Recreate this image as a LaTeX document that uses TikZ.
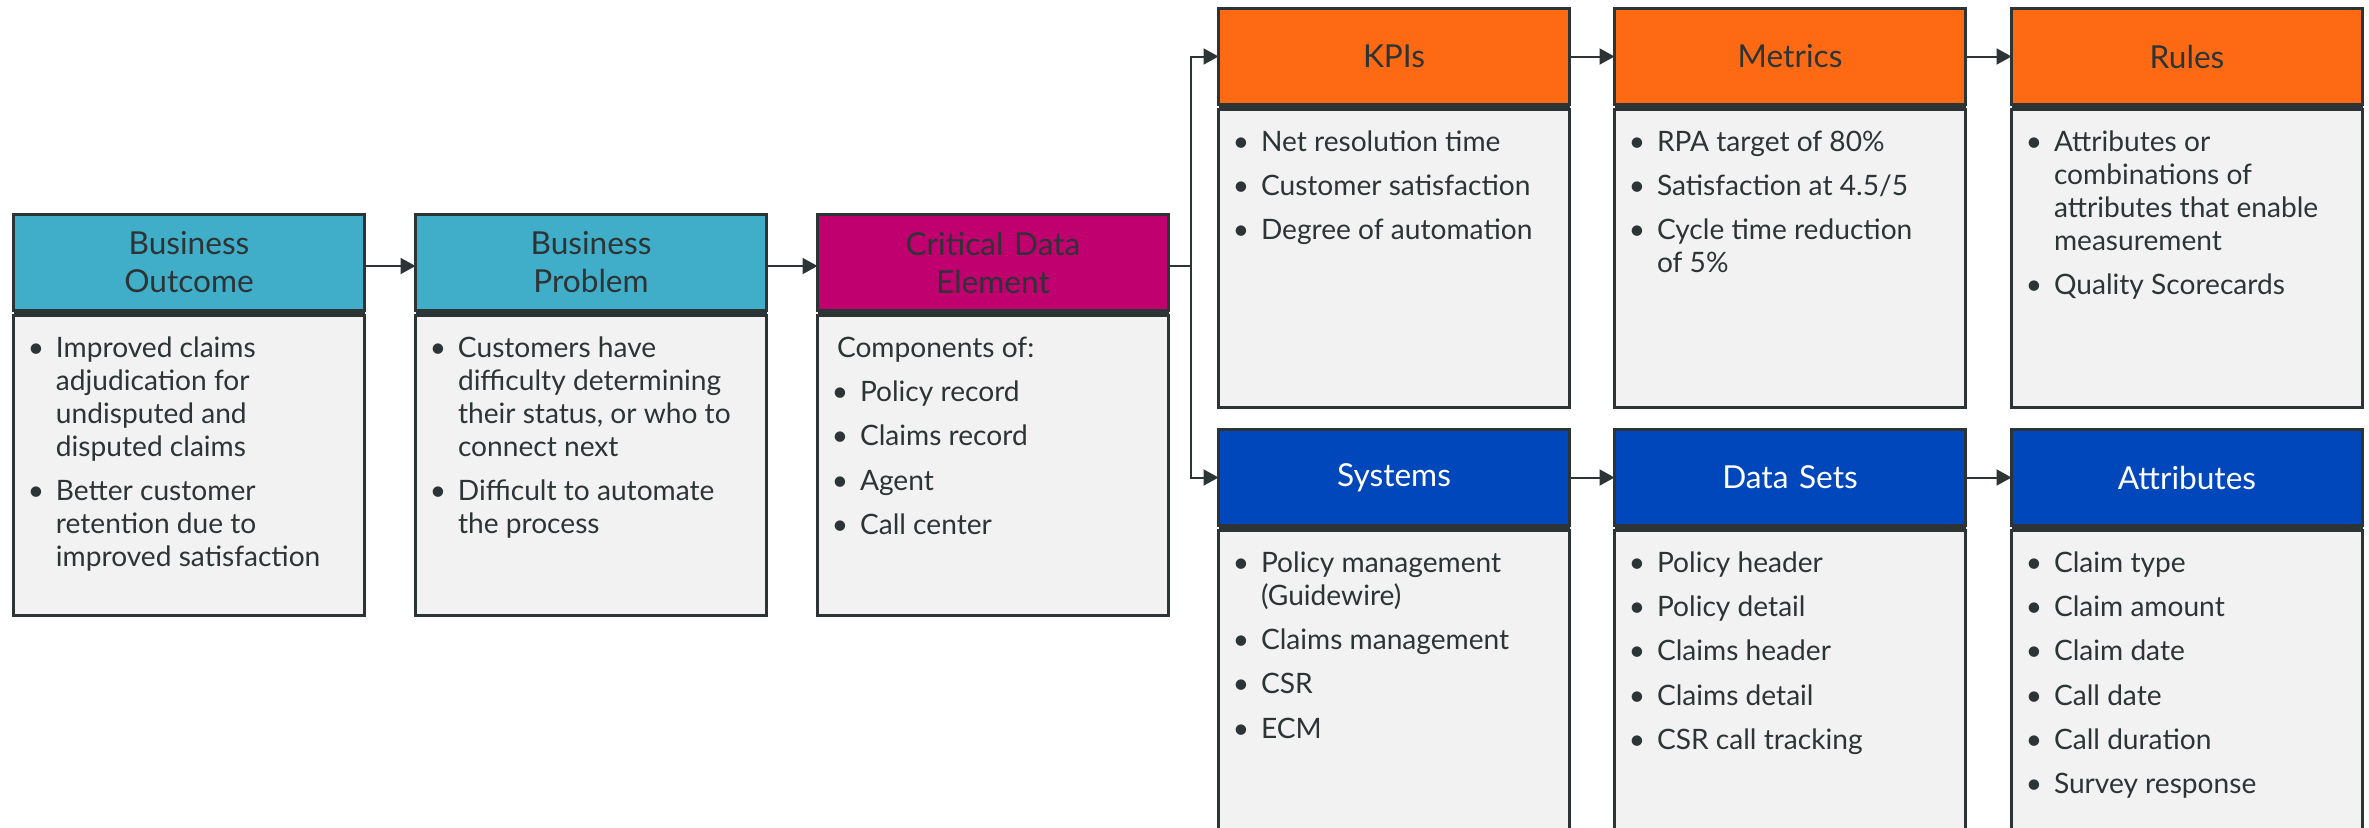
\documentclass[tikz,border=0pt]{standalone}
\usepackage{fontspec}
\setmainfont{Lato}
\usetikzlibrary{positioning,arrows.meta}
\definecolor{edge}{RGB}{45,52,54}
\definecolor{cardteal}{RGB}{64,174,200}
\definecolor{cardpink}{RGB}{192,0,111}
\definecolor{cardorange}{RGB}{254,106,19}
\definecolor{cardblue}{RGB}{0,71,187}
\definecolor{cardbody}{RGB}{242,242,242}
% one bullet item, continuation lines hang under the text
\newcommand{\itm}[1]{\par\hangindent=2mm\hangafter=1\strut\makebox[2mm][l]{\makebox[0pt]{\textbullet}}#1\par}
\newcommand{\cardtext}[2]{\parbox[c][#1][t]{30.6mm}{\raggedright\setlength{\parskip}{3.2pt}#2}}

\begin{document}
\begin{tikzpicture}[x=0.1mm, y=-0.1mm, node distance={40.2mm},
	head/.style = {draw=edge, line width=0.3mm, outer sep=0pt, inner sep=0pt, minimum width=35.1mm, minimum height=9.6mm, text width=33mm, align=center, text=edge, font=\fontsize{9}{10.8}\selectfont},
	body/.style = {draw=edge, fill=cardbody, line width=0.3mm, outer sep=0pt, inner xsep=2.25mm, inner ysep=1.87mm, minimum width=35.1mm, text=edge, font=\fontsize{8}{9.4}\selectfont},
	arr/.style = {draw=edge, line width=0.2mm, -{Triangle[length=1.5mm,width=1.6mm]}}]
		\useasboundingbox (0,0) rectangle (2369,827);
		
		% left row
		\node[head, fill=cardteal] (outcome) at (189,262.5) {Business\\Outcome};
		\node[head, fill=cardteal] (problem) [right of=outcome] {Business\\Problem};
		\node[head, fill=cardpink] (cde) [right of=problem] {Critical Data\\Element};
		
		\node[body] (outcome-txt) [below=0.5mm of outcome] {\cardtext{26.3mm}{\itm{Improved claims\newline adjudication for\newline undisputed and\newline disputed claims}\itm{Better customer\newline retention due to\newline improved satisfaction}}};
		\node[body] (problem-txt) [below=0.5mm of problem] {\cardtext{26.3mm}{\itm{Customers have\newline difficulty determining\newline their status, or who to\newline connect next}\itm{Difficult to automate\newline the process}}};
		\node[body] (cde-txt) [below=0.5mm of cde] {\cardtext{26.3mm}{\strut\hspace{-0.3mm}Components of:\itm{Policy record}\itm{Claims record}\itm{Agent}\itm{Call center}}};
		
		% top row
		\node[head, fill=cardorange] (kpi) at (1394,56.5) {KPIs};
		\node[head, fill=cardorange, node distance=39.6mm] (metric) [right of=kpi] {Metrics};
		\node[head, fill=cardorange, node distance=39.7mm] (rule) [right of=metric] {Rules};
		
		\node[body] (kpi-txt) [below=0.5mm of kpi] {\cardtext{26.1mm}{\itm{Net resolution time}\itm{Customer satisfaction}\itm{Degree of automation}}};
		\node[body] (metric-txt) [below=0.5mm of metric] {\cardtext{26.1mm}{\itm{RPA target of 80\%}\itm{Satisfaction at 4.5/5}\itm{Cycle time reduction\newline of 5\%}}};
		\node[body] (rule-txt) [below=0.5mm of rule] {\cardtext{26.1mm}{\itm{Attributes or\newline combinations of\newline attributes that enable\newline measurement}\itm{Quality Scorecards}}};
		
		% bottom row
		\node[head, fill=cardblue, text=white, node distance=42.1mm] (system) [below of=kpi] {Systems};
		\node[head, fill=cardblue, text=white, node distance=39.6mm] (dataset) [right of=system] {Data Sets};
		\node[head, fill=cardblue, text=white, node distance=39.7mm] (attr) [right of=dataset] {Attributes};
		
		\node[body] (system-txt) [below=0.5mm of system] {\cardtext{29mm}{\itm{Policy management\newline (Guidewire)}\itm{Claims management}\itm{CSR}\itm{ECM}}};
		\node[body] (dataset-txt) [below=0.5mm of dataset] {\cardtext{29mm}{\itm{Policy header}\itm{Policy detail}\itm{Claims header}\itm{Claims detail}\itm{CSR call tracking}}};
		\node[body] (attr-txt) [below=0.5mm of attr] {\cardtext{29mm}{\itm{Claim type}\itm{Claim amount}\itm{Claim date}\itm{Call date}\itm{Call duration}\itm{Survey response}}};
		
		% dark bars under the headers
		\fill[edge] (outcome.south west) rectangle (outcome-txt.north east);
		\fill[edge] (problem.south west) rectangle (problem-txt.north east);
		\fill[edge] (cde.south west) rectangle (cde-txt.north east);
		\fill[edge] (kpi.south west) rectangle (kpi-txt.north east);
		\fill[edge] (metric.south west) rectangle (metric-txt.north east);
		\fill[edge] (rule.south west) rectangle (rule-txt.north east);
		\fill[edge] (system.south west) rectangle (system-txt.north east);
		\fill[edge] (dataset.south west) rectangle (dataset-txt.north east);
		\fill[edge] (attr.south west) rectangle (attr-txt.north east);
		
		\coordinate (split) at ([xshift=2.25mm,yshift=-0.35mm]cde.east);
		
		\draw[arr] ([yshift=-0.35mm]outcome.east) -- ([yshift=-0.35mm]problem.west);
		\draw[arr] ([yshift=-0.35mm]problem.east) -- ([yshift=-0.35mm]cde.west);
		\draw[arr] ([yshift=-0.35mm]cde.east) -- (split) |- (kpi.west);
		\draw[arr] (split) |- (system.west);
		
		\draw[arr] (kpi) -- (metric);
		\draw[arr] (metric) -- (rule);
		\draw[arr] (system) -- (dataset);
		\draw[arr] (dataset) -- (attr);
	\end{tikzpicture}
\end{document}
